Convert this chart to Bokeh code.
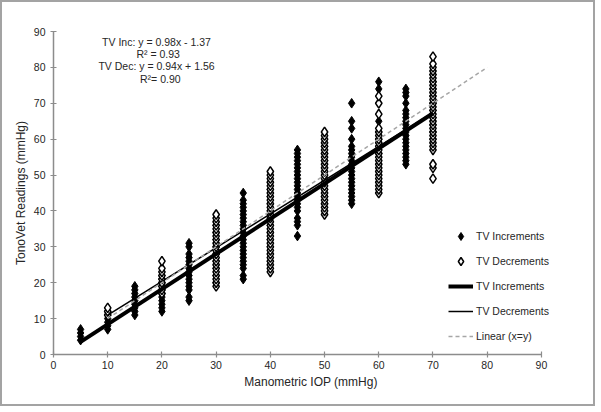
import numpy as np
from bokeh.plotting import figure
from bokeh.models import Range1d, Label, Legend, LegendItem, FixedTicker
from bokeh.embed import file_html
from bokeh.resources import INLINE

# ---------------- data ----------------
inc_iop = [5, 10, 15, 20, 25, 30, 35, 40, 45, 50, 55, 60, 65, 70]
inc_tv = [
    [4, 5, 6, 7],
    [7, 8, 9, 10, 11, 12],
    [11, 12, 13, 14, 15, 16, 17, 18, 19],
    [12, 13, 14, 15, 16, 17, 18, 19, 20, 21, 22],
    [15, 16, 18, 19, 20, 21, 22, 23, 24, 25, 26, 27, 28, 30, 31],
    [20, 22, 24, 26, 28, 30, 32, 34, 36],
    [21, 22, 24, 25, 26, 27, 28, 29, 30, 31, 32, 33, 34, 35, 36, 37, 38, 39, 40, 41, 42, 43, 45],
    [26, 28, 30, 32, 34, 36, 38, 40, 42, 44, 46, 48],
    [33, 36, 37, 38, 40, 41, 42, 43, 44, 45, 46, 47, 48, 49, 50, 51, 52, 53, 54, 55, 56, 57],
    [40, 42, 44, 46, 48, 50, 52, 54, 56, 58, 60],
    [42, 43, 44, 45, 46, 47, 48, 49, 50, 51, 52, 53, 54, 55, 56, 57, 58, 60, 63, 65, 70],
    [56, 58, 60, 62, 65, 74, 76],
    [53, 54, 55, 56, 57, 58, 59, 60, 61, 62, 63, 64, 65, 66, 67, 68, 70, 72, 73, 74],
    [60, 62, 64, 66, 68, 70, 72, 74, 76, 78],
]
dec_iop = [10, 20, 30, 40, 50, 60, 70]
dec_tv = [
    [11, 12, 13],
    [17, 18, 19, 20, 21, 22, 23, 24, 26],
    list(range(19, 40)),
    list(range(23, 52)),
    list(range(39, 63)),
    list(range(45, 64)) + [67, 70, 72],
    [49, 52, 53] + list(range(57, 82)) + [83],
]
inc_fit = (0.98, -1.37, 0.93)   # slope, intercept, R^2
dec_fit = (0.94, 1.56, 0.90)
inc_fit_span = [5, 70]
dec_fit_span = [10, 70]
identity_span = [10, 80]
x_ticks = [0, 10, 20, 30, 40, 50, 60, 70, 80, 90]
y_ticks = [0, 10, 20, 30, 40, 50, 60, 70, 80, 90]
legend_labels = ["TV Increments", "TV Decrements", "TV Increments", "TV Decrements", "Linear (x=y)"]

FONT = "Liberation Sans"
TXT = "#262626"
AXC = "#8c8c8c"

# ---------------- figure ----------------
# frame extends a little past x=90 (axis bounded at 90) so legend text fits
p = figure(width=595, height=406, output_backend="svg", toolbar_location=None,
           x_range=Range1d(0, 95), y_range=Range1d(0, 90),
           min_border_left=51, min_border_right=29, min_border_top=29, min_border_bottom=54)
p.styles = {"border": "2px solid #a3a3a3"}
p.outline_line_color = None
p.xgrid.visible = False
p.ygrid.visible = False
p.background_fill_color = "white"

for ax, ticks in ((p.xaxis[0], x_ticks), (p.yaxis[0], y_ticks)):
    ax.ticker = FixedTicker(ticks=ticks)
    ax.bounds = (0, 90)
    ax.axis_line_color = AXC
    ax.axis_line_width = 1.5
    ax.major_tick_line_color = AXC
    ax.major_tick_line_width = 1.2
    ax.major_tick_in = 3
    ax.major_tick_out = 3
    ax.minor_tick_line_color = None
    ax.major_label_text_font = FONT
    ax.major_label_text_font_size = "10.5px"
    ax.major_label_text_color = TXT
    ax.axis_label_text_font = FONT
    ax.axis_label_text_font_size = "12px"
    ax.axis_label_text_font_style = "normal"
    ax.axis_label_text_color = TXT
    ax.axis_label_standoff = 3

p.xaxis[0].axis_label = "Manometric IOP (mmHg)"
p.yaxis[0].axis_label = "TonoVet Readings (mmHg)"
p.xaxis[0].major_label_standoff = 3
p.yaxis[0].major_label_standoff = 5

ix = [x for x, vals in zip(inc_iop, inc_tv) for _ in vals]
iy = [v for vals in inc_tv for v in vals]
dx = [x for x, vals in zip(dec_iop, dec_tv) for _ in vals]
dy = [v for vals in dec_tv for v in vals]

r_inc = p.scatter(ix, iy, marker="diamond", size=9.6,
                  fill_color="black", line_color="black", line_width=1)
r_dec = p.scatter(dx, dy, marker="diamond", size=9.6,
                  fill_color="white", line_color="black", line_width=1.5)

xs_i = np.array(inc_fit_span, dtype=float)
xs_d = np.array(dec_fit_span, dtype=float)
r_li = p.line(xs_i, inc_fit[0] * xs_i + inc_fit[1], line_color="black", line_width=4)
r_ld = p.line(xs_d, dec_fit[0] * xs_d + dec_fit[1], line_color="black", line_width=1.5)
r_id = p.line(identity_span, identity_span, line_color="#a6a6a6", line_width=1.5,
              line_dash="4 3")

rends = [r_inc, r_dec, r_li, r_ld, r_id]
legend = Legend(items=[LegendItem(label=lab, renderers=[r]) for lab, r in zip(legend_labels, rends)],
                location=(395, 8), padding=0, margin=0, spacing=5, glyph_height=20, glyph_width=25,
                label_standoff=3, border_line_color=None, background_fill_alpha=0,
                label_text_font=FONT, label_text_font_size="10.5px", label_text_color=TXT)
p.add_layout(legend)

ann = [
    (19.0, 87.2, f"TV Inc: y = {inc_fit[0]:.2f}x - {abs(inc_fit[1]):.2f}"),
    (19.3, 83.8, f"R\u00b2 = {inc_fit[2]:.2f}"),
    (19.0, 80.3, f"TV Dec: y = {dec_fit[0]:.2f}x + {dec_fit[1]:.2f}"),
    (19.7, 76.8, f"R\u00b2= {dec_fit[2]:.2f}"),
]
for x, y, t in ann:
    p.add_layout(Label(x=x, y=y, text=t, text_align="center", text_baseline="middle",
                       text_font=FONT, text_font_size="10.5px", text_color=TXT))

open("out.html", "w").write(file_html(p, INLINE))
